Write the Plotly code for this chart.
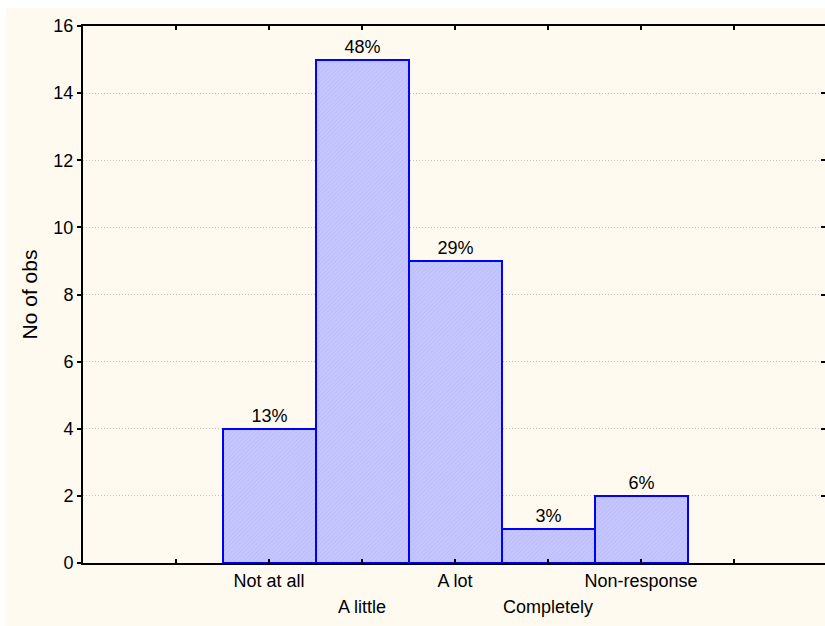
import plotly.graph_objects as go

# Survey response counts
categories = ["Not at all", "A little", "A lot", "Completely", "Non-response"]
counts = [4, 15, 9, 1, 2]
percent_labels = ["13%", "48%", "29%", "3%", "6%"]
positions = [2, 3, 4, 5, 6]
y_ticks = [0, 2, 4, 6, 8, 10, 12, 14, 16]

FONT = "Liberation Sans, Arial, sans-serif"
W, H = 825, 626
ML, MT, MB = 83, 26, 63
plot_w = W - ML
unit = 744 / 8.0  # pixels per category slot
FS = 18

fig = go.Figure()
fig.add_trace(go.Bar(
    x=positions,
    y=counts,
    width=1.0,
    text=percent_labels,
    textposition="outside",
    textfont=dict(family=FONT, size=FS, color="black"),
    cliponaxis=False,
    marker=dict(
        color="#c4c4ff",
        line=dict(color="#0000ff", width=2),
        pattern=dict(shape="/", size=3, solidity=0.3,
                     fgcolor="#aeaef2", bgcolor="#c6c6ff"),
    ),
    showlegend=False,
))

# Invisible trace so the right-hand tick axis is drawn
fig.add_trace(go.Scatter(x=[positions[0]], y=[0], yaxis="y2", mode="markers",
                         marker=dict(opacity=0), showlegend=False,
                         hoverinfo="skip"))

# Staggered category labels: alternate rows under the axis
upper = [c if i % 2 == 0 else "" for i, c in enumerate(categories)]
for i, (p, c) in enumerate(zip(positions, categories)):
    if i % 2 == 1:
        fig.add_annotation(x=p, y=0, xref="x", yref="y", text=c,
                           showarrow=False, yanchor="middle", yshift=-44,
                           font=dict(family=FONT, size=FS, color="black"))

# Cream backdrop behind the axes area
plot_h = H - MT - MB
fig.add_shape(type="rect", xref="paper", yref="paper",
              x0=(6 - ML) / plot_w, x1=1.01,
              y0=-(MB + 2) / plot_h,
              y1=(H - MB - 8) / plot_h,
              fillcolor="#fffaf0", line=dict(width=0), layer="below")

grid_dash = "1px,2px"

fig.update_layout(
    width=W, height=H,
    margin=dict(l=ML, r=0, t=MT, b=MB),
    paper_bgcolor="white",
    plot_bgcolor="white",
    font=dict(family=FONT, size=FS, color="black"),
    bargap=0,
    xaxis=dict(
        range=[0, plot_w / unit],
        tickmode="array",
        tickvals=[1, 2, 3, 4, 5, 6, 7],
        ticktext=[""] + upper + [""],
        ticks="inside", ticklen=4, tickwidth=2, tickcolor="black",
        showline=True, linecolor="black", linewidth=2, mirror="ticks",
        showgrid=False, zeroline=False,
        tickfont=dict(family=FONT, size=FS, color="black"),
    ),
    yaxis=dict(
        range=[0, 16],
        tickvals=y_ticks,
        ticks="outside", ticklen=4, tickwidth=2, tickcolor="black",
        showline=True, linecolor="black", linewidth=2, mirror=False,
        showgrid=True, gridcolor="#c4c4c4", griddash=grid_dash, gridwidth=1,
        zeroline=False,
        tickfont=dict(family=FONT, size=FS, color="black"),
        title=dict(text="No of obs", font=dict(family=FONT, size=21, color="black"),
                   standoff=10),
    ),
    yaxis2=dict(
        range=[0, 16], overlaying="y", side="right",
        tickvals=y_ticks, showticklabels=False,
        ticks="inside", ticklen=4, tickwidth=2, tickcolor="black",
        showline=False, showgrid=False, zeroline=False,
    ),
)

fig.write_html("out.html")
